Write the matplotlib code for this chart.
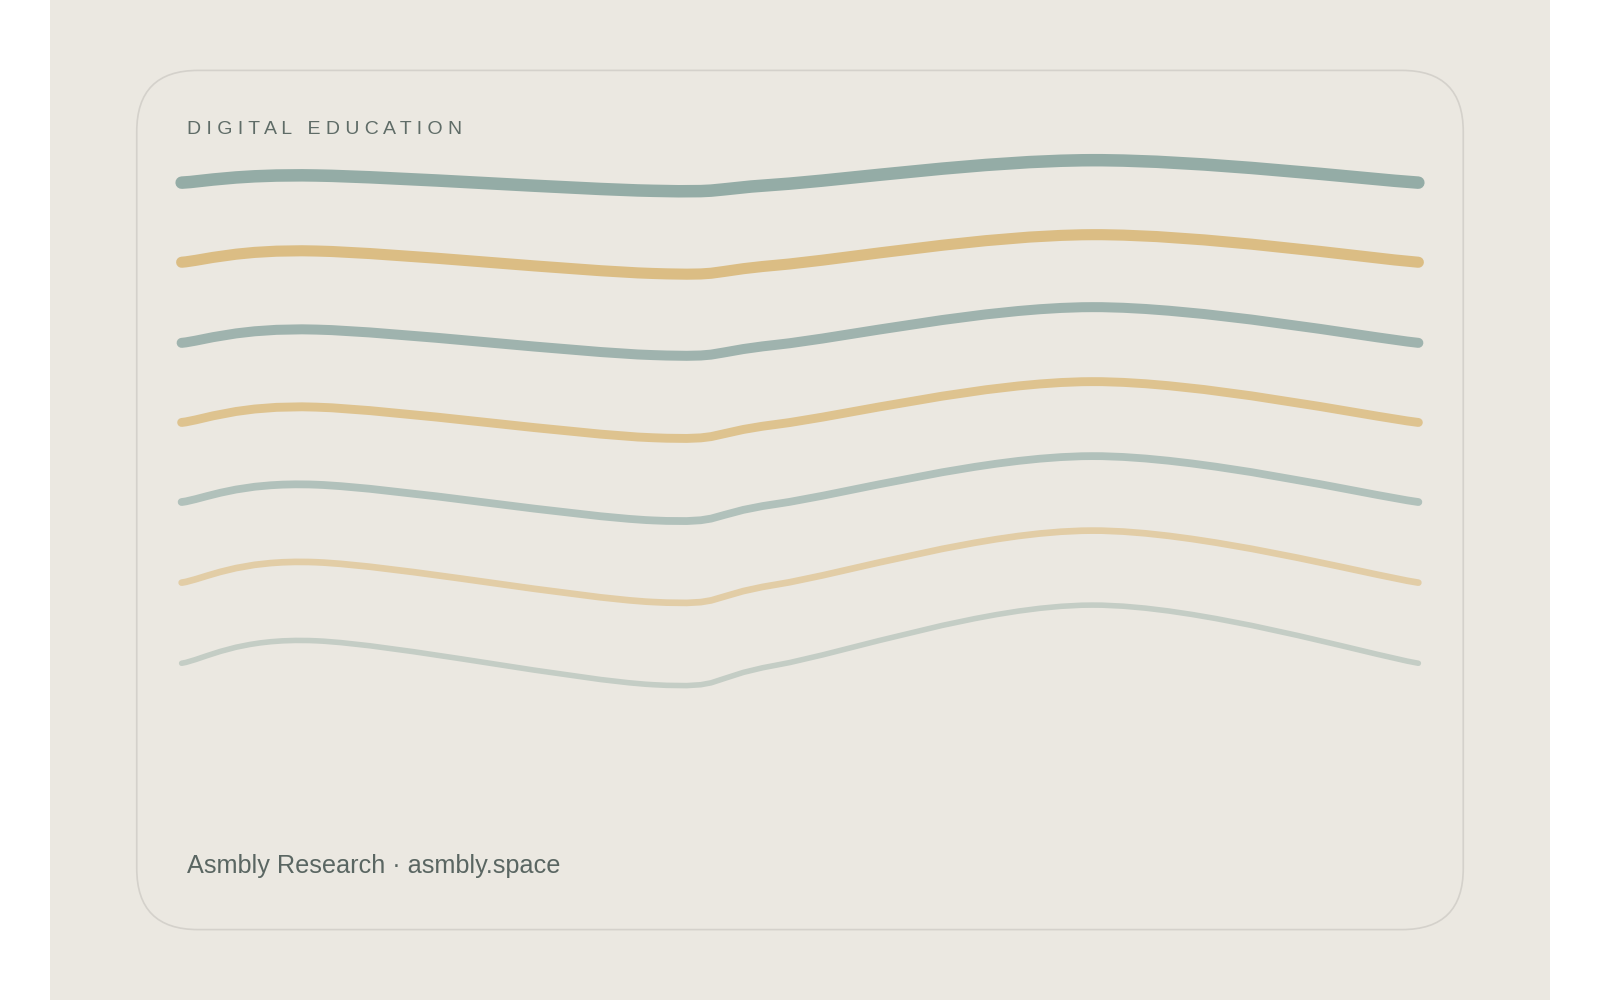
import numpy as np
import matplotlib.pyplot as plt
from matplotlib.path import Path
from matplotlib.patches import PathPatch, FancyBboxPatch, Rectangle

plt.rcParams['font.family'] = ['Liberation Sans', 'DejaVu Sans']

# knot positions along the card (pixel space of the reference)
knot_x = [178, 310, 640, 760, 1070, 1390]
wave_y = [
    [179, 172, 187, 181, 157, 179],
    [257, 246, 268, 260, 230, 257],
    [336, 323, 348, 338, 301, 336],
    [414, 399, 429, 416, 374, 414],
    [492, 475, 510, 494, 447, 492],
    [571, 551, 590, 573, 520, 571],
    [650, 628, 671, 652, 593, 650],
]
wave_colors = ["#94aca6", "#dbbd84", "#9fb3ae", "#dec38f", "#b1c1bb", "#e2cda6", "#c4cdc5"]
wave_widths = [9, 8, 7.2, 6.4, 5.6, 4.8, 4.0]


def smooth_path(xs, ys):
    # Catmull-Rom through the knots, handed to matplotlib as cubic bezier segments
    pts = list(zip(xs, ys))
    ext = [pts[0]] + pts + [pts[-1]]
    verts = [pts[0]]
    codes = [Path.MOVETO]
    for i in range(1, len(ext) - 2):
        p0, p1, p2, p3 = [np.array(p, float) for p in ext[i - 1:i + 3]]
        c1 = p1 + (p2 - p0) / 6
        c2 = p2 - (p3 - p1) / 6
        verts += [tuple(c1), tuple(c2), tuple(p2)]
        codes += [Path.CURVE4] * 3
    return Path(verts, codes)


fig = plt.figure(figsize=(16, 10), dpi=100)
ax = fig.add_axes([0, 0, 1, 1])
ax.set_xlim(0, 1568)
ax.set_ylim(980, 0)
ax.axis("off")
fig.patch.set_facecolor("white")

ax.add_patch(Rectangle((49, 0), 1470, 980, facecolor="#ebe8e1", edgecolor="none"))
ax.add_patch(FancyBboxPatch((134, 69), 1300, 842, boxstyle="round,pad=0,rounding_size=60",
                            facecolor="#ebe8e1", edgecolor="#d4d1cb", linewidth=1.2))

for ys, c, w in zip(wave_y, wave_colors, wave_widths):
    ax.add_patch(PathPatch(smooth_path(knot_x, ys), facecolor="none", edgecolor=c,
                           linewidth=w, capstyle="round"))

ax.text(183, 127, "D I G I T A L   E D U C A T I O N", fontsize=14,
        color="#5f6c67", va="center", ha="left")
ax.text(183, 849, "Asmbly Research · asmbly.space", fontsize=18.2, color="#5a6662",
        va="center", ha="left")

fig.savefig("out.png", dpi=100)
